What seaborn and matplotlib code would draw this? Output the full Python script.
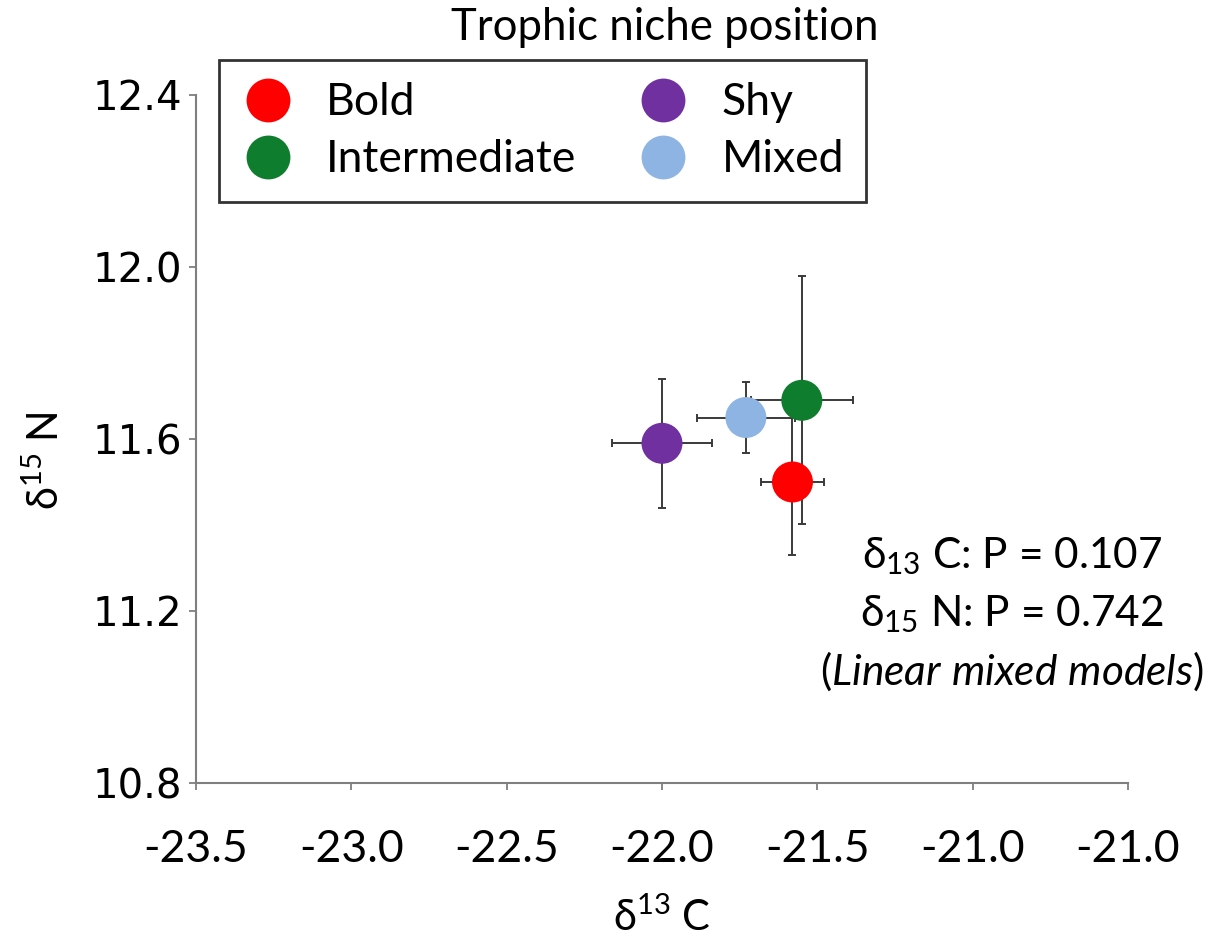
import matplotlib
matplotlib.use("Agg")
import matplotlib.pyplot as plt
import seaborn as sns
import pandas as pd

# Group means and standard errors of stable isotope ratios
groups = ["Bold", "Intermediate", "Shy", "Mixed"]
d13c_mean = [-21.58, -21.55, -22.00, -21.73]
d15n_mean = [11.50, 11.69, 11.59, 11.65]
d13c_err = [0.10, 0.165, 0.16, 0.157]
d15n_err = [0.17, 0.288, 0.15, 0.082]

colors = ["#FF0000", "#0E7D2D", "#7030A0", "#8EB4E3"]

x_ticks = [-23.5, -23.0, -22.5, -22.0, -21.5, -21.0, -20.5]
x_tick_labels = ["-23.5", "-23.0", "-22.5", "-22.0", "-21.5", "-21.0", "-21.0"]
y_ticks = [10.8, 11.2, 11.6, 12.0, 12.4]
y_tick_labels = ["10.8", "11.2", "11.6", "12.0", "12.4"]

stats_lines = [
    r"$\mathrm{\delta}_{13}$ C: P = 0.107",
    r"$\mathrm{\delta}_{15}$ N: P = 0.742",
    r"($\mathit{Linear\ mixed\ models}$)",
]

sns.set_theme(style="white")
plt.rcParams["font.family"] = ["Lato", "DejaVu Sans"]
plt.rcParams["mathtext.fontset"] = "custom"
plt.rcParams["mathtext.rm"] = "Lato"
plt.rcParams["mathtext.it"] = "Lato:italic"
plt.rcParams["mathtext.fallback"] = "stixsans"
plt.rcParams["text.color"] = "black"
plt.rcParams["axes.labelcolor"] = "black"

df = pd.DataFrame({
    "group": groups,
    "d13C": d13c_mean,
    "d15N": d15n_mean,
    "xerr": d13c_err,
    "yerr": d15n_err,
})

fig = plt.figure(figsize=(12.31, 9.41), dpi=100)
ax = fig.add_axes([196 / 1231, 1 - 783 / 941, (1128 - 196) / 1231, (783 - 95) / 941])

# error bars underneath the markers
for _, r in df.iterrows():
    ax.errorbar(r["d13C"], r["d15N"], xerr=r["xerr"], yerr=r["yerr"],
                fmt="none", ecolor="#3a3a3a", elinewidth=1.4,
                capsize=3.2, capthick=1.4, zorder=2)

sns.scatterplot(data=df, x="d13C", y="d15N", hue="group", hue_order=groups,
                palette=colors, s=870, edgecolor="none", linewidth=0,
                ax=ax, zorder=3, legend=True)

ax.set_xlim(-23.5, -20.5)
ax.set_ylim(10.8, 12.4)
ax.set_xticks(x_ticks)
ax.set_xticklabels(x_tick_labels, fontsize=32)
ax.set_yticks(y_ticks)
ax.set_yticklabels(y_tick_labels, fontsize=29, family="DejaVu Sans")

for side in ["top", "right"]:
    ax.spines[side].set_visible(False)
for side in ["left", "bottom"]:
    ax.spines[side].set_color("#7f7f7f")
    ax.spines[side].set_linewidth(1.5)

ax.tick_params(axis="x", direction="out", length=5, width=1.3, color="#7f7f7f",
               pad=28, bottom=True, labelcolor="black")
ax.tick_params(axis="y", direction="out", length=5, width=1.3, color="#7f7f7f",
               pad=5, left=True, labelcolor="black")

ax.set_xlabel(r"$\mathrm{\delta}^{13}$ C", fontsize=30)
ax.xaxis.label.set_va("center")
ax.xaxis.set_label_coords(0.5, -0.195)
ax.set_ylabel(r"$\mathrm{\delta}^{15}$ N", fontsize=30)
ax.yaxis.label.set_va("center")
ax.yaxis.set_label_coords(-0.162, 0.469)

# statistics annotation
for txt, yy in zip(stats_lines, [0.33, 0.2456, 0.1628]):
    ax.text(0.8755, yy, txt, transform=ax.transAxes, ha="center", va="center",
            fontsize=30.5, color="black")

fig.text(665 / 1231, 1 - 27 / 941, "Trophic niche position", ha="center",
         va="center", fontsize=31.5)

handles, labels = ax.get_legend_handles_labels()
leg = ax.legend(handles, labels, ncol=2, loc="upper left",
                bbox_to_anchor=(219 / 1231, 1 - 60 / 941),
                bbox_transform=fig.transFigure,
                frameon=True, fancybox=False, edgecolor="black",
                fontsize=32, markerscale=1.07, handletextpad=0.71,
                labelspacing=0.36, borderpad=0.5, borderaxespad=0,
                handlelength=1.2, columnspacing=1.35)
leg.get_frame().set_linewidth(2)

fig.savefig("out.png", dpi=100)
